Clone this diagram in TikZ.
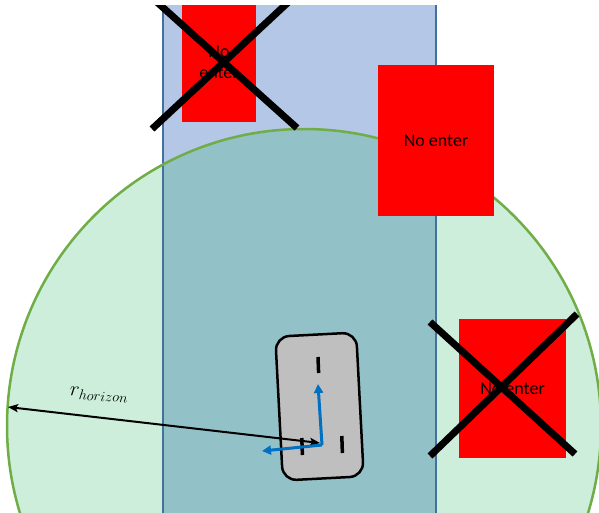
\documentclass[tikz,border=0pt]{standalone}
\usepackage{fontspec}
\setmainfont{Carlito}
\usetikzlibrary{arrows.meta}

\definecolor{roadfill}{HTML}{B4C7E7}
\definecolor{roadedge}{HTML}{41719C}
\definecolor{zonefill}{HTML}{CCEEDB}
\definecolor{zoneroad}{HTML}{93C1C8}
\definecolor{zoneedge}{HTML}{70AD47}
\definecolor{carfill}{HTML}{BFBFBF}
\definecolor{axisblue}{HTML}{0070C0}

\tikzset{
  nobox/.style={fill=red, inner sep=0pt, align=center,
    font=\fontsize{18}{21}\selectfont},
  crossline/.style={line width=7pt, black},
  carbody/.style={draw=black, line width=2.5pt, fill=carfill,
    rounded corners=14pt, inner sep=0pt},
  wheelmark/.style={line width=3.5pt, black},
  axisarrow/.style={axisblue, line width=3pt, -{Triangle[length=9pt,width=9pt]}},
  radiusarrow/.style={black, line width=2pt,
    {Stealth[length=10pt,width=8pt,inset=2pt]}-{Stealth[length=10pt,width=8pt,inset=2pt]}}
}

\begin{document}
\begin{tikzpicture}[x=1pt, y=-1pt]
  \useasboundingbox (0,0) rectangle (599,512);
  \begin{scope}
    \clip (0,5) rectangle (599,512);

    % horizon zone and the road
    \fill[zonefill] (304,426) circle[radius=297];
    \fill[roadfill] (163,-20) rectangle (436,530);
    \begin{scope}
      \clip (304,426) circle[radius=297];
      \fill[zoneroad] (163,-20) rectangle (436,530);
    \end{scope}
    \draw[roadedge, line width=1.5pt] (163,-20) -- (163,530);
    \draw[roadedge, line width=1.5pt] (436,-20) -- (436,530);
    \draw[zoneedge, line width=2.5pt] (304,426) circle[radius=297];

    % forbidden areas
    \node[nobox, minimum width=74pt, minimum height=119pt] (boxA) at (219,62.5) {No\\enter};
    \node[nobox, minimum width=116pt, minimum height=151pt] (boxB) at (436,140.5) {No enter};
    \node[nobox, minimum width=107pt, minimum height=139pt] (boxC) at (512.5,388.5) {No enter};

    % crossed-out areas
    \draw[crossline] (149,-5) -- (297,128);
    \draw[crossline] (296,-5) -- (152,129);
    \draw[crossline] (430,322) -- (575,454);
    \draw[crossline] (577,314) -- (430,456);

    % vehicle
    \node[carbody, rotate=3, minimum width=81pt, minimum height=144pt] (car) at (319.5,406.5) {};
    \draw[wheelmark] (318.6,373) -- (318.0,357);
    \draw[wheelmark] (302.4,455) -- (301.8,438);
    \draw[wheelmark] (342.4,453) -- (341.8,436);

    % horizon radius
    \coordinate (rim) at (8,407);
    \coordinate (origin) at (320,443);
    \draw[radiusarrow] (rim) -- (origin);
    \node[rotate=-4, inner sep=0pt, font=\fontsize{21}{24}\selectfont] (rlabel) at (99,395) {$r_{horizon}$};

    % vehicle frame axes
    \coordinate (axo) at (322,445);
    \coordinate (axf) at (318,384);
    \coordinate (axl) at (262,451);
    \draw[axisarrow] (axo) -- (axf);
    \draw[axisarrow] (axo) -- (axl);
  \end{scope}
\end{tikzpicture}
\end{document}
